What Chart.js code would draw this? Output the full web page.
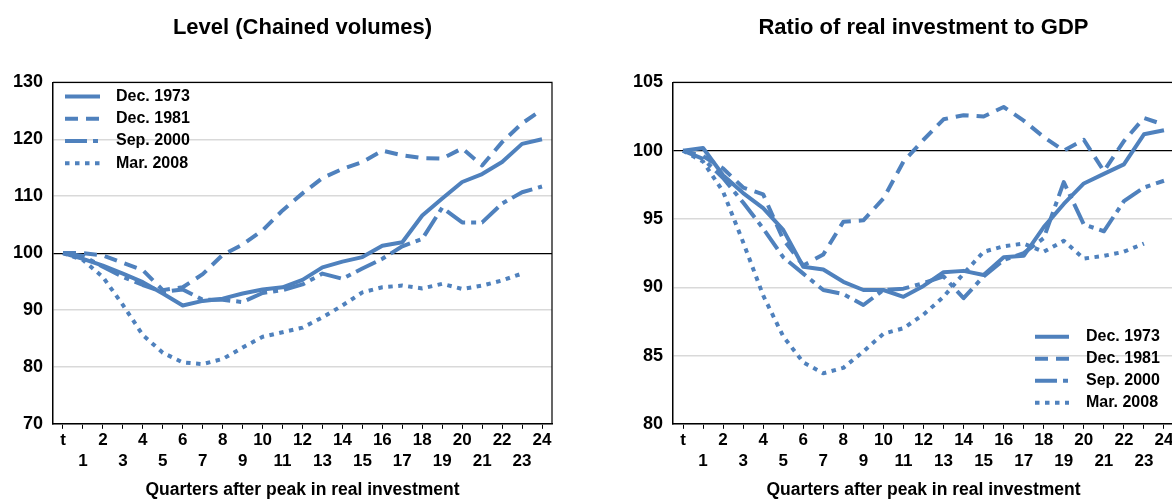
<!DOCTYPE html>
<html>
<head>
<meta charset="utf-8">
<title>Investment downturns</title>
<script src="https://cdn.jsdelivr.net/npm/chart.js@4.4.1/dist/chart.umd.min.js"></script>
<style>
    html, body {margin: 0; padding: 0; background: #fff; overflow: hidden;}
    #wrap {position: relative; width: 1172px; height: 501px; overflow: hidden;}
    .box {position: absolute; top: 0;}
    #boxLevel {left: 0;}
    #boxRatio {left: 620px;}
</style>
</head>
<body>
<div id="wrap">
    <div class="box" id="boxLevel"><canvas id="chartLevel" width="580" height="501"></canvas></div>
    <div class="box" id="boxRatio"><canvas id="chartRatio" width="560" height="501"></canvas></div>
</div>
<script>
// MODULE'S VARS
const QUARTERS = ['t', '1', '2', '3', '4', '5', '6', '7', '8', '9', '10', '11', '12',
    '13', '14', '15', '16', '17', '18', '19', '20', '21', '22', '23', '24'];
const SERIES_NAMES = ['Dec. 1973', 'Dec. 1981', 'Sep. 2000', 'Mar. 2008'];

// level, chained volumes (index, peak = 100)
const LEVEL_1973 = [100, 99.0, 97.8, 96.4, 94.9, 92.9, 90.8, 91.6, 92.0, 92.9, 93.6, 94.0, 95.3,
    97.5, 98.5, 99.3, 101.3, 101.9, 106.6, 109.6, 112.5, 113.9, 116.0, 119.2, 120.0];
const LEVEL_1981 = [100, 100, 99.6, 98.3, 97.0, 93.5, 94.0, 96.3, 99.7, 101.5, 104.0, 107.5, 110.5,
    113.2, 114.8, 116.0, 118.0, 117.2, 116.7, 116.6, 118.4, 115.4, 119.5, 122.8, 125.2];
const LEVEL_2000 = [100, 99.5, 97.6, 95.8, 94.4, 93.2, 93.6, 91.8, 91.8, 91.4, 93.0, 93.5, 94.5,
    96.4, 95.5, 97.3, 99.0, 101.2, 102.5, 108.0, 105.4, 105.4, 108.7, 110.7, 111.7];
const LEVEL_2008 = [100, 98.8, 95.8, 90.9, 85.6, 82.5, 80.8, 80.5, 81.4, 83.4, 85.3, 86.1, 86.9,
    88.7, 90.8, 93.1, 94.0, 94.3, 93.8, 94.6, 93.7, 94.3, 95.2, 96.4, null];

// ratio of real investment to GDP (peak = 100)
const RATIO_1973 = [100, 100.2, 98.2, 96.9, 95.8, 94.2, 91.5, 91.3, 90.4, 89.8, 89.8, 89.3, 90.1,
    91.1, 91.2, 90.9, 92.2, 92.3, 94.4, 96.1, 97.6, 98.3, 99.0, 101.2, 101.5];
const RATIO_1981 = [100, 99.6, 98.7, 97.3, 96.8, 93.5, 91.6, 92.4, 94.8, 94.9, 96.5, 99.2, 100.8,
    102.3, 102.6, 102.5, 103.2, 102.2, 101.0, 100.0, 100.8, 98.5, 100.7, 102.4, 101.9];
const RATIO_2000 = [100, 99.4, 98.0, 96.2, 94.3, 92.2, 91.0, 89.8, 89.5, 88.7, 89.8, 89.9, 90.3,
    90.8, 89.2, 90.8, 92.0, 92.5, 93.6, 97.7, 94.6, 94.1, 96.3, 97.3, 97.8];
const RATIO_2008 = [100, 99.2, 97.0, 93.3, 89.4, 86.4, 84.5, 83.7, 84.1, 85.3, 86.6, 87.0, 88.0,
    89.3, 91.0, 92.6, 93.0, 93.2, 92.6, 93.4, 92.1, 92.3, 92.6, 93.2, null];

const FONT = 'Liberation Sans, Arial, sans-serif';
const LINE_COLOR = '#4F81BD';
const DASHES = [[], [13, 8], [22, 6, 5, 6], [4.5, 5.5]];

// MODULE'S FUNCTIONS
/**
 * Draw black frame lines on top and right sides of the plot area.
 */
const framePlugin = {
    id: 'frame',
    beforeDatasetsDraw(chart) {
        const {ctx, chartArea: a} = chart;
        ctx.save();
        ctx.strokeStyle = '#000';
        ctx.lineWidth = 1.2;
        ctx.beginPath();
        ctx.moveTo(a.left, a.top);
        ctx.lineTo(a.right, a.top);
        ctx.lineTo(a.right, a.bottom);
        ctx.stroke();
        ctx.restore();
    }
};

/**
 * Legend inside plot area: line sample (with dataset dash) + label.
 */
const innerLegend = {
    id: 'innerLegend',
    afterDatasetsDraw(chart, args, opts) {
        const {ctx, chartArea: a} = chart;
        const x0 = opts.fromRight ? a.right - opts.x : a.left + opts.x;
        const y0 = opts.fromBottom ? a.bottom - opts.y : a.top + opts.y;
        ctx.save();
        ctx.font = `bold ${opts.fontSize}px ${FONT}`;
        ctx.textBaseline = 'middle';
        ctx.fillStyle = '#000';
        chart.data.datasets.forEach((ds, i) => {
            const y = y0 + i * opts.rowGap;
            ctx.strokeStyle = ds.borderColor;
            ctx.lineWidth = ds.borderWidth;
            ctx.setLineDash(ds.borderDash || []);
            ctx.beginPath();
            ctx.moveTo(x0, y);
            ctx.lineTo(x0 + opts.lineLength, y);
            ctx.stroke();
            ctx.fillText(ds.label, x0 + opts.lineLength + opts.gap, y);
        });
        ctx.restore();
    }
};

function makeDatasets(series) {
    return series.map((data, i) => ({
        label: SERIES_NAMES[i],
        data,
        borderColor: LINE_COLOR,
        borderWidth: 4,
        borderDash: DASHES[i],
        borderCapStyle: 'butt',
        borderJoinStyle: 'round',
        pointRadius: 0,
        tension: 0,
        fill: false,
        spanGaps: false,
    }));
}

function draw(canvasId, title, series, yMin, yMax, yStep, padRight, legendOpts) {
    const ctx = document.getElementById(canvasId).getContext('2d');
    return new Chart(ctx, {
        type: 'line',
        data: {labels: QUARTERS, datasets: makeDatasets(series)},
        plugins: [framePlugin, innerLegend],
        options: {
            responsive: false,
            animation: false,
            devicePixelRatio: 1,
            layout: {padding: {top: 0, right: padRight, bottom: 0, left: 0}},
            plugins: {
                legend: {display: false},
                tooltip: {enabled: false},
                title: {
                    display: true,
                    text: title,
                    fullSize: false,
                    color: '#000',
                    font: {family: FONT, size: 22, weight: 'bold'},
                    padding: {top: 15, bottom: 41},
                },
                innerLegend: legendOpts,
            },
            scales: {
                x: {
                    type: 'category',
                    offset: true,
                    grid: {display: true, drawOnChartArea: false, drawTicks: true, tickLength: 5, color: '#000', lineWidth: 1},
                    border: {display: true, color: '#000', width: 1.5},
                    ticks: {
                        autoSkip: false,
                        maxRotation: 0,
                        minRotation: 0,
                        padding: 1,
                        color: '#000',
                        font: {family: FONT, size: 17, weight: 'bold', lineHeight: 1.24},
                        callback(value, index) {
                            const lab = this.getLabelForValue(value);
                            return (index % 2 === 0) ? lab : ['', lab];
                        }
                    },
                    title: {
                        display: true,
                        text: 'Quarters after peak in real investment',
                        color: '#000',
                        font: {family: FONT, size: 17.5, weight: 'bold'},
                        padding: {top: 7, bottom: 0},
                    }
                },
                y: {
                    min: yMin,
                    max: yMax,
                    afterFit(scale) { scale.width = 53; },
                    grid: {
                        drawTicks: false,
                        color: (c) => (c.tick && c.tick.value === 100) ? '#000' : '#d9d9d9',
                        lineWidth: (c) => (c.tick && c.tick.value === 100) ? 1.2 : 1.5,
                    },
                    border: {display: true, color: '#000', width: 1.5},
                    ticks: {
                        stepSize: yStep,
                        padding: 10,
                        color: '#000',
                        font: {family: FONT, size: 18, weight: 'bold'},
                    }
                }
            }
        }
    });
}

// MAIN FUNCTIONALITY
draw('chartLevel', 'Level (Chained volumes)',
    [LEVEL_1973, LEVEL_1981, LEVEL_2000, LEVEL_2008], 70, 130, 10, 28,
    {x: 12, y: 14, fromRight: false, fromBottom: false, rowGap: 22.3, lineLength: 35, gap: 16, fontSize: 16});
draw('chartRatio', 'Ratio of real investment to GDP',
    [RATIO_1973, RATIO_1981, RATIO_2000, RATIO_2008], 80, 105, 5, 6,
    {x: 139, y: 87, fromRight: true, fromBottom: true, rowGap: 22, lineLength: 34, gap: 17, fontSize: 16});
</script>
</body>
</html>
